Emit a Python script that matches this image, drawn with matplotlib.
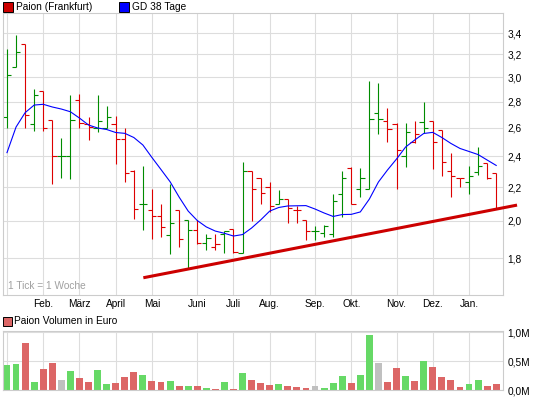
import matplotlib
matplotlib.use("Agg")
import matplotlib.pyplot as plt
from matplotlib.patches import Rectangle
from matplotlib.ticker import FixedLocator, NullLocator
import numpy as np

plt.rcParams['font.family'] = 'Liberation Sans'
plt.rcParams['font.size'] = 7.3

# weekly bars (Frankfurt), oldest first
opens = [2.68, 3.09, 3.30, 2.63, 2.89, 2.66, 2.40, 2.40, 2.81, 2.63,
         2.60, 2.60, 2.63, 2.52, 2.30, 2.10, 2.06, 2.03, 1.92, 2.06,
         2.005, 1.95, 1.88, 1.857, 1.925, 1.955, 1.825, 2.30, 2.255, 2.20,
         2.10, 2.127, 2.06, 2.005, 1.942, 1.931, 1.925, 2.16, 2.32, 2.19,
         2.19, 2.71, 2.65, 2.63, 2.40, 2.50, 2.642, 2.65, 2.585, 2.305,
         2.255, 2.23, 2.294, 2.353, 2.29]
highs = [3.25, 3.38, 3.30, 2.90, 2.89, 2.66, 2.53, 2.85, 2.86, 2.68,
         2.85, 2.77, 2.69, 2.60, 2.31, 2.335, 2.19, 2.10, 2.22, 2.06,
         2.005, 2.005, 1.925, 1.925, 1.943, 1.955, 2.36, 2.30, 2.255, 2.23,
         2.18, 2.127, 2.086, 2.005, 1.971, 1.976, 2.16, 2.30, 2.33, 2.32,
         2.97, 2.95, 2.75, 2.634, 2.634, 2.652, 2.80, 2.65, 2.585, 2.42,
         2.255, 2.335, 2.466, 2.353, 2.29]
lows = [2.60, 3.09, 2.60, 2.58, 2.58, 2.22, 2.26, 2.25, 2.60, 2.51,
        2.57, 2.60, 2.35, 2.23, 2.01, 1.95, 1.90, 1.91, 1.82, 1.855,
        1.75, 1.873, 1.84, 1.84, 1.828, 1.825, 1.825, 2.00, 2.10, 2.05,
        2.10, 1.99, 1.99, 1.897, 1.897, 1.913, 1.913, 2.023, 2.10, 2.14,
        2.19, 2.555, 2.50, 2.186, 2.33, 2.494, 2.566, 2.313, 2.272, 2.14,
        2.20, 2.156, 2.275, 2.251, 2.072]
closes = [3.02, 3.22, 2.70, 2.85, 2.60, 2.40, 2.40, 2.66, 2.64, 2.61,
          2.65, 2.68, 2.52, 2.29, 2.07, 2.10, 2.03, 1.965, 1.99, 1.90,
          1.95, 1.88, 1.904, 1.876, 1.943, 1.833, 2.30, 2.19, 2.163, 2.084,
          2.127, 2.076, 2.06, 1.942, 1.942, 1.972, 2.113, 2.26, 2.10, 2.255,
          2.67, 2.67, 2.59, 2.443, 2.573, 2.556, 2.602, 2.50, 2.36, 2.272,
          2.255, 2.27, 2.335, 2.26, 2.072]

# volume in Mio. Euro
volume = [0.43, 0.455, 0.807, 0.142, 0.364, 0.466, 0.176, 0.33, 0.21, 0.142,
          0.347, 0.108, 0.125, 0.227, 0.313, 0.26, 0.159, 0.142, 0.159, 0.074,
          0.074, 0.074, 0.04, 0.023, 0.142, 0.023, 0.295, 0.176, 0.125, 0.09,
          0.108, 0.074, 0.057, 0.04, 0.074, 0.04, 0.125, 0.244, 0.125, 0.26,
          0.943, 0.466, 0.142, 0.38, 0.244, 0.159, 0.50, 0.398, 0.227, 0.176,
          0.057, 0.108, 0.176, 0.074, 0.108]

# GD 38 Tage, read at each weekly tick
ma38 = [2.425, 2.607, 2.715, 2.774, 2.780, 2.759, 2.743, 2.722, 2.674, 2.622,
        2.600, 2.589, 2.567, 2.561, 2.531, 2.478, 2.392, 2.312, 2.234, 2.139,
        2.056, 2.002, 1.966, 1.943, 1.931, 1.916, 1.924, 1.960, 2.005, 2.056,
        2.077, 2.086, 2.087, 2.088, 2.068, 2.045, 2.025, 2.036, 2.037, 2.051,
        2.127, 2.232, 2.309, 2.382, 2.464, 2.513, 2.560, 2.568, 2.531, 2.489,
        2.454, 2.433, 2.412, 2.375, 2.339]

month_pos = [4, 8, 12, 16, 21, 25, 29, 34, 38, 43, 47, 51]
month_labels = ["Feb.", "März", "April", "Mai", "Juni", "Juli", "Aug.",
                "Sep.", "Okt.", "Nov.", "Dez.", "Jan."]
price_ticks = [1.8, 2.0, 2.2, 2.4, 2.6, 2.8, 3.0, 3.2, 3.4]
vol_ticks = [0.0, 0.5, 1.0]

# support line
trend_x = [15.05, 56.3]
trend_y = [1.703, 2.091]

GREEN = '#008c00'
RED = '#dd0000'
GRID = '#dddddd'

weeks = np.arange(len(closes))
prev = [opens[0]] + closes[:-1]
bar_col = [GREEN if c >= p else RED for c, p in zip(closes, prev)]
vol_col = []
for c, p in zip(closes, prev):
    if c > p:
        vol_col.append('#66d966')
    elif c < p:
        vol_col.append('#dc6666')
    else:
        vol_col.append('#c0c0c0')

W, H = 545, 398
fig = plt.figure(figsize=(W / 100, H / 100), dpi=100)

# price panel
ax = fig.add_axes([3 / W, (H - 295) / H, 500 / W, 282 / H])
ax.set_yscale('log')
ax.set_xlim(-0.44, 54.75)
ax.set_ylim(1.622, 3.598)
ax.set_axisbelow(True)

ax.vlines(weeks, lows, highs, colors=bar_col, lw=0.8)
ax.hlines(opens, weeks - 0.47, weeks, colors=bar_col, lw=0.8)
ax.hlines(closes, weeks, weeks + 0.47, colors=bar_col, lw=0.8)
ax.plot(weeks, ma38, color='#0000ff', lw=0.8)
ax.plot(trend_x, trend_y, color='#cc0000', lw=2.2, clip_on=False,
        solid_capstyle='butt', zorder=5)

ax.yaxis.set_major_locator(FixedLocator(price_ticks))
ax.yaxis.set_minor_locator(NullLocator())
ax.set_yticklabels([f"{t:.1f}".replace('.', ',') for t in price_ticks])
ax.yaxis.tick_right()
ax.set_xticks([0] + month_pos)
ax.set_xticklabels([''] + month_labels)
ax.tick_params(axis='both', length=0)
ax.tick_params(axis='y', pad=3)
ax.tick_params(axis='x', pad=3)
ax.grid(True, color=GRID, lw=0.8)
for s in ax.spines.values():
    s.set_color('#cccccc')
    s.set_linewidth(0.8)

ax.text(0.009, 0.032, "1 Tick = 1 Woche", transform=ax.transAxes,
        color='#a0a0a0', va='center', ha='left')

# volume panel
av = fig.add_axes([3 / W, (H - 390) / H, 500 / W, 59 / H])
av.set_xlim(-0.44, 54.75)
av.set_ylim(0, 1.02)
av.set_axisbelow(True)
av.bar(weeks, volume, width=0.76, color=vol_col)
av.set_yticks(vol_ticks)
av.set_yticklabels([f"{t:.1f}".replace('.', ',') + "M" for t in vol_ticks])
av.yaxis.tick_right()
av.set_xticks([0] + month_pos)
av.set_xticklabels([])
av.tick_params(axis='both', length=0)
av.tick_params(axis='y', pad=3)
av.grid(True, color=GRID, lw=0.8)
for s in av.spines.values():
    s.set_color('#cccccc')
    s.set_linewidth(0.8)

# legends
def px(x, y):
    return x / W, 1 - y / H

fig.patches.append(Rectangle(px(3, 12), 10 / W, 10 / H, facecolor='#cc0000',
                             edgecolor='black', lw=0.7, transform=fig.transFigure))
fig.text(*px(16, 7), "Paion (Frankfurt)", va='center', ha='left')
fig.patches.append(Rectangle(px(119, 12), 10 / W, 10 / H, facecolor='#0000ff',
                             edgecolor='black', lw=0.7, transform=fig.transFigure))
fig.text(*px(132, 7), "GD 38 Tage", va='center', ha='left')
fig.patches.append(Rectangle(px(3, 326), 9 / W, 9 / H, facecolor='#dc6666',
                             edgecolor='black', lw=0.7, transform=fig.transFigure))
fig.text(*px(14, 321), "Paion Volumen in Euro", va='center', ha='left')

fig.savefig("out.png", dpi=100)
